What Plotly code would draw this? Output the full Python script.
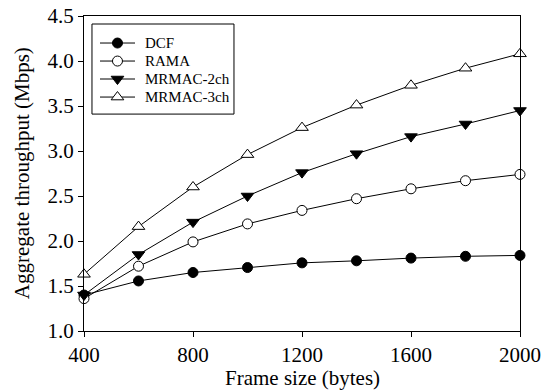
import plotly.graph_objects as go

frame_size = [400, 600, 800, 1000, 1200, 1400, 1600, 1800, 2000]
dcf = [1.40, 1.556, 1.65, 1.705, 1.757, 1.78, 1.81, 1.83, 1.84]
rama = [1.36, 1.72, 1.99, 2.19, 2.34, 2.47, 2.58, 2.67, 2.74]
mrmac2 = [1.40, 1.85, 2.21, 2.50, 2.76, 2.97, 3.16, 3.30, 3.45]
mrmac3 = [1.63, 2.16, 2.60, 2.96, 3.26, 3.51, 3.73, 3.92, 4.08]

series_names = ["DCF", "RAMA", "MRMAC-2ch", "MRMAC-3ch"]
series_values = [dcf, rama, mrmac2, mrmac3]
symbols = ["circle", "circle", "triangle-down", "triangle-up"]
fills = ["black", "white", "black", "white"]
sizes = [10, 10, 11, 11]

font = "Liberation Serif"
fig = go.Figure()
for name, vals, sym, fill, sz in zip(series_names, series_values, symbols, fills, sizes):
    fig.add_trace(go.Scatter(
        x=frame_size, y=vals, name=name, mode="lines+markers",
        line=dict(color="black", width=1),
        marker=dict(symbol=sym, size=sz, color=fill, line=dict(color="black", width=1)),
        cliponaxis=False, showlegend=False,
    ))

# Manual legend (box, line samples, markers, labels) in plot-area fractions
leg_x0, leg_x1, leg_y0, leg_y1 = 0.0183, 0.344, 0.6886, 0.9746
entry_y = [0.9142, 0.857, 0.800, 0.7427]
sample_x0, sample_x1, sample_xm, text_x = 0.0367, 0.117, 0.0768, 0.1353
shapes = [dict(type="rect", xref="paper", yref="paper", x0=leg_x0, x1=leg_x1,
               y0=leg_y0, y1=leg_y1, line=dict(color="black", width=1),
               fillcolor="white", layer="below")]
annotations = []
for i, name in enumerate(series_names):
    shapes.append(dict(type="line", xref="paper", yref="paper", x0=sample_x0, x1=sample_x1,
                       y0=entry_y[i], y1=entry_y[i], line=dict(color="black", width=1),
                       layer="below"))
    annotations.append(dict(xref="paper", yref="paper", x=text_x, y=entry_y[i],
                            xanchor="left", yanchor="middle", text=name, showarrow=False,
                            font=dict(family=font, size=15, color="black")))
    fig.add_trace(go.Scatter(
        x=[sample_xm], y=[entry_y[i]], xaxis="x2", yaxis="y2", mode="markers",
        marker=dict(symbol=symbols[i], size=sizes[i], color=fills[i],
                    line=dict(color="black", width=1)),
        showlegend=False, hoverinfo="skip", cliponaxis=False,
    ))

annotations.append(dict(xref="paper", yref="paper", x=0.5, y=-0.148, xanchor="center",
                        yanchor="middle", text="Frame size (bytes)", showarrow=False,
                        font=dict(family=font, size=21, color="black")))
annotations.append(dict(xref="paper", yref="paper", x=-0.143, y=0.5, xanchor="center",
                        yanchor="middle", text="Aggregate throughput (Mbps)", showarrow=False,
                        textangle=-90, font=dict(family=font, size=21, color="black")))

fig.update_layout(
    width=542, height=390,
    margin=dict(l=84, r=22, t=16, b=59),
    paper_bgcolor="white", plot_bgcolor="white",
    font=dict(family=font, color="black", size=21),
    showlegend=False,
    shapes=shapes, annotations=annotations,
    xaxis=dict(range=[400, 2000], tickvals=[400, 800, 1200, 1600, 2000],
               ticks="outside", ticklen=5, tickcolor="black",
               showline=True, linecolor="black", linewidth=1, mirror=True,
               showgrid=False, zeroline=False, automargin=False,
               ticklabeloverflow="allow",
               tickfont=dict(size=21, family=font)),
    yaxis=dict(range=[1.0, 4.5], tickvals=[1.0, 1.5, 2.0, 2.5, 3.0, 3.5, 4.0, 4.5],
               tickformat=".1f",
               ticks="outside", ticklen=5, tickcolor="black",
               showline=True, linecolor="black", linewidth=1, mirror=True,
               showgrid=False, zeroline=False, automargin=False,
               ticklabeloverflow="allow",
               tickfont=dict(size=21, family=font)),
    xaxis2=dict(overlaying="x", range=[0, 1], visible=False, fixedrange=True),
    yaxis2=dict(overlaying="y", range=[0, 1], visible=False, fixedrange=True),
)

# remove the browser's default 8px body margin so the figure fills the window exactly
fig.write_html("out.html", config={"displayModeBar": False},
               post_script="document.body.style.margin='0';")
